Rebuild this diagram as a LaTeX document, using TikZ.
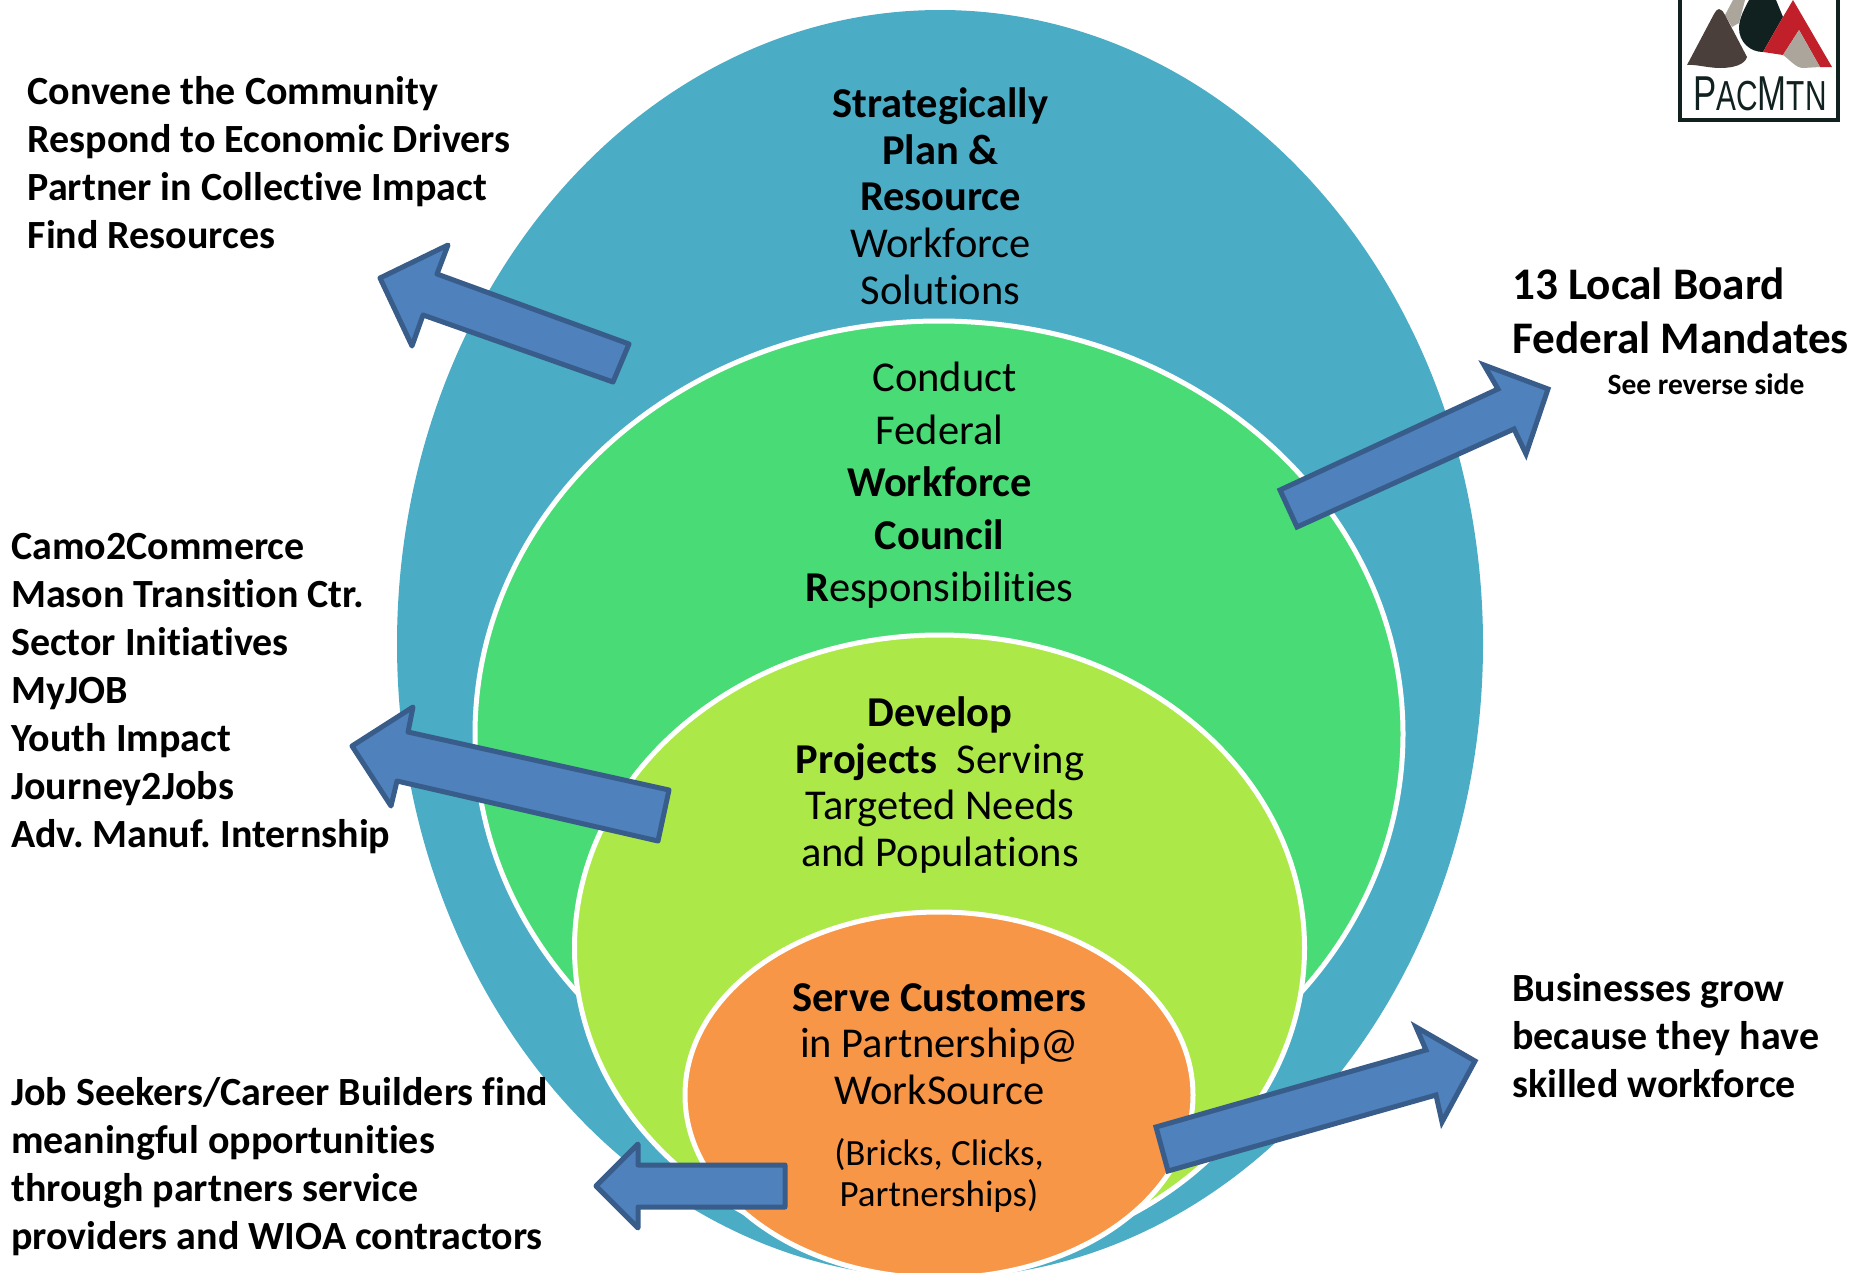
\documentclass[tikz,border=0pt]{standalone}
\usepackage{fontspec}
\setmainfont[Ligatures=NoCommon]{Carlito}
\newfontfamily\logofont{Liberation Sans}
\definecolor{tealc}{HTML}{4BACC6}
\definecolor{greenc}{HTML}{49DB75}
\definecolor{limec}{HTML}{ACE948}
\definecolor{orangec}{HTML}{F79646}
\definecolor{arrowfill}{HTML}{4F81BD}
\definecolor{arrowline}{HTML}{385D8A}
\definecolor{logodark}{HTML}{10211F}
\definecolor{logobrown}{HTML}{4A3F3A}
\definecolor{logored}{HTML}{C1202A}
\definecolor{logogray}{HTML}{ABA59C}
\frenchspacing
\tikzset{
  ring/.style={draw=white,line width=5},
  blockarrow/.style={fill=arrowfill,draw=arrowline,line width=5,line join=round},
  sharparrow/.style={fill=arrowfill,draw=arrowline,line width=5,line join=miter,miter limit=6},
  centertext/.style={anchor=north,inner sep=0,align=center,text=black,font=\fontsize{42.5}{46.7}\selectfont},
  listtext/.style={anchor=north west,inner sep=0,align=left,text=black,font=\fontsize{40}{48}\selectfont\bfseries},
}
\begin{document}
\begin{tikzpicture}[x=1pt,y=-1pt]
\useasboundingbox (0,0) rectangle (1871,1272);
\clip (0,0) rectangle (1871,1272);
% nested ellipses
\fill[tealc] (940,644) ellipse [x radius=543,y radius=634];
\draw[ring,fill=greenc] (939,734) ellipse [x radius=464,y radius=413];
\draw[ring,fill=limec] (939.5,948) ellipse [x radius=365,y radius=313];
\draw[ring,fill=orangec] (939,1095) ellipse [x radius=254,y radius=183];
% ellipse texts
\node[centertext] (plan) at (940.5,87.5) {\textbf{Strategically}\\\textbf{Plan \&}\\\textbf{Resource}\\Workforce\\Solutions};
\node[centertext,font=\fontsize{42.5}{52.5}\selectfont] (council) at (939.5,362) {\hspace*{10pt}Conduct\\Federal\\\textbf{Workforce}\\\textbf{Council}\\\textbf{R}esponsibilities};
\node[centertext] (projects) at (940,696.5) {\textbf{Develop}\\\textbf{Projects}\ \ Serving\\Targeted Needs\\and Populations};
\node[centertext] (serve) at (939.5,983) {\textbf{Serve Customers}\\in Partnership@\\WorkSource};
\node[centertext,font=\fontsize{37}{41}\selectfont] (bricks) at (939,1138) {(Bricks, Clicks,\\Partnerships)};
% side lists
\node[listtext] (convene) at (27.5,76) {Convene the Community\\Respond to Economic Drivers\\Partner in Collective Impact\\Find Resources};
\node[listtext] (camo) at (11,533) {Camo2Commerce\\Mason Transition Ctr.\\Sector Initiatives\\MyJOB\\Youth Impact\\Journey2Jobs\\Adv. Manuf. Internship};
\node[listtext] (seekers) at (11,1077) {Job Seekers/Career Builders find\\meaningful opportunities\\through partners service\\providers and WIOA contractors};
\node[listtext] (grow) at (1512,973) {Businesses grow\\because they have\\skilled workforce};
\node[listtext,font=\fontsize{45.2}{54}\selectfont\bfseries] (mandates) at (1512,268) {13 Local Board\\Federal Mandates};
\node[anchor=north,inner sep=0,font=\fontsize{29.5}{32}\selectfont\bfseries] (reverse) at (1706,374) {See reverse side};
% block arrows
\draw[blockarrow] (380,278) -- (448,245) -- (437,274) -- (629,344) -- (613,382) -- (423,315) -- (412,346) -- cycle;
\draw[sharparrow] (1280,490) -- (1498,389) -- (1484,365) -- (1548,389) -- (1526,454) -- (1514,429) -- (1297,527) -- cycle;
\draw[blockarrow] (352,746) -- (413,707) -- (408,732) -- (669,790) -- (658,841) -- (397,781) -- (391,806) -- cycle;
\draw[sharparrow] (1156,1127) -- (1426,1050) -- (1416,1027) -- (1475,1061) -- (1442,1122) -- (1436,1095) -- (1168,1171) -- cycle;
\draw[blockarrow] (596,1186) -- (638,1144) -- (638,1165) -- (785,1165) -- (785,1207) -- (638,1207) -- (638,1228) -- cycle;
% logo
\draw[logodark,line width=4.5] (1680,-5) rectangle (1838,120);
\fill[logogray] (1733,0) -- (1745,0) -- (1739,23) -- (1732,27) -- (1725,15) -- cycle;
\fill[logodark] (1749,0) -- (1776,0) -- (1783,17) -- (1763,52) .. controls (1750,52) and (1739,42) .. (1739,28) .. controls (1739,18) and (1745,8) .. (1749,0) -- cycle;
\fill[logored] (1793,0) -- (1832,67) -- (1820,67) -- (1799,30) -- (1783,55) -- (1763,52) -- (1783,17) -- cycle;
\fill[logogray] (1799,30) -- (1783,55) .. controls (1790,60) and (1796,68) .. (1803,68) -- (1820,67) -- cycle;
\fill[logobrown] (1719,9) .. controls (1722,9) and (1723,12) .. (1725,15) -- (1747,57) .. controls (1745,64) and (1735,68) .. (1720,68) .. controls (1708,68) and (1695,64) .. (1687,65) -- (1714,14) .. controls (1716,11) and (1717,9) .. (1719,9) -- cycle;
\node[anchor=base west,inner sep=0,text=logodark] (logotext) at (1693,110) {\logofont\scalebox{.71}[1]{\fontsize{49}{49}\selectfont P\fontsize{42}{42}\selectfont AC\fontsize{49}{49}\selectfont M\fontsize{42}{42}\selectfont TN}};
\end{tikzpicture}
\end{document}
